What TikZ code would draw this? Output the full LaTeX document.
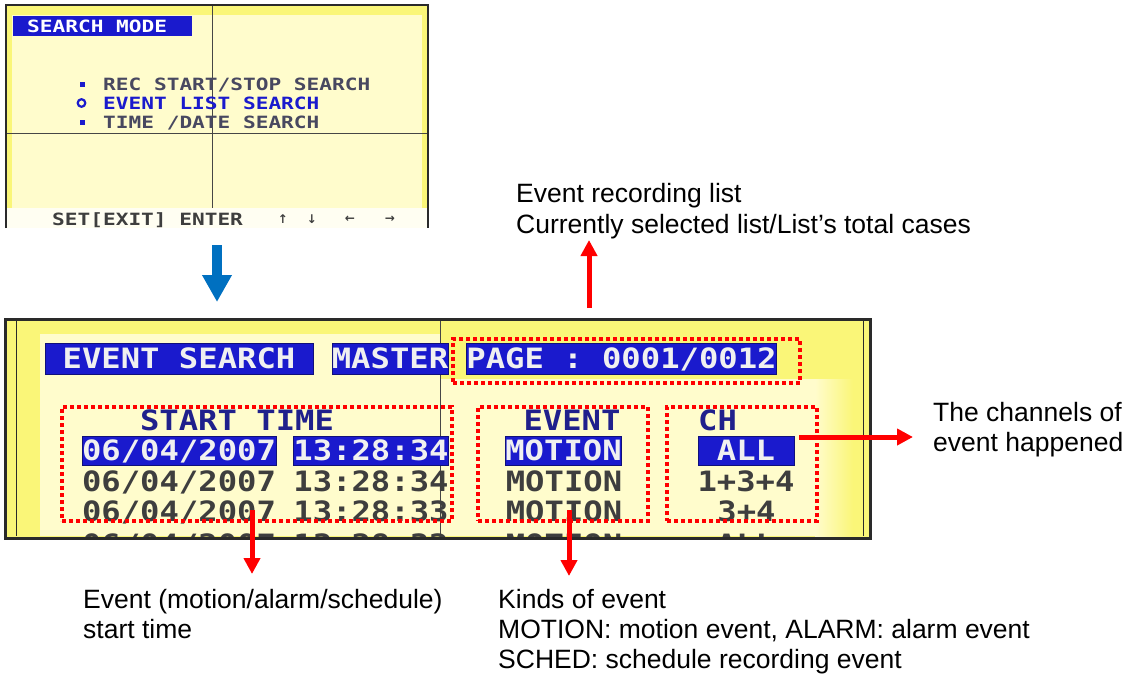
\documentclass[tikz,border=0pt]{standalone}
\usepackage{fontspec}
\setmainfont{Liberation Sans}
\newfontfamily\osdA{DejaVu Sans Mono}[FakeStretch=1.25]
\newfontfamily\osdB{DejaVu Sans Mono}[FakeStretch=1.15]
\newfontfamily\symfont{DejaVu Sans}
\usetikzlibrary{arrows.meta}
\definecolor{scrY}{RGB}{250,246,120}
\definecolor{scrL}{RGB}{255,252,204}
\definecolor{osdblue}{RGB}{26,26,205}
\definecolor{osdnavy}{RGB}{32,32,140}
\definecolor{osdgray}{RGB}{62,62,62}
\definecolor{menugray}{RGB}{72,72,96}
\definecolor{arrblue}{RGB}{0,112,192}
\definecolor{framec}{RGB}{42,42,42}
\tikzset{
  osdtop/.style={font=\osdA\bfseries\fontsize{16.9}{16.9}\selectfont, inner sep=0pt, text height=12.3pt, text depth=0pt},
  osdbot/.style={font=\osdB\bfseries\fontsize{28}{28}\selectfont, inner sep=0pt, text height=20.4pt, text depth=0pt},
  bluebox/.style={fill=osdblue, draw=osdblue!60!black, line width=0.6pt, text=white!94!black},
  reddot/.style={draw=red, line width=3.5pt, dash pattern=on 4pt off 3pt, inner sep=0pt},
  redarrow/.style={draw=red, line width=5pt, -{Triangle[width=16pt,length=16pt]}},
  annot/.style={font=\fontsize{26.5}{30}\selectfont, inner sep=0pt, anchor=base west, text=black},
  smallarr/.style={font=\symfont\bfseries\fontsize{12}{12}\selectfont, inner sep=0pt, text=osdgray}
}
\begin{document}
\begin{tikzpicture}[x=1pt,y=-1pt]
\useasboundingbox (0,0) rectangle (1131,677);
\fill[white] (0,0) rectangle (1131,677);
% ---------- top screen ----------
\fill[scrY] (6,5) rectangle (428,208);
\fill[scrL] (12,15) rectangle (422,208);
\fill[white!95!yellow] (6,208) rectangle (428,228);
\draw[gray!55!black, line width=0.8pt] (212,5) -- (212,208);
\draw[gray!55!black, line width=0.8pt] (6,133) -- (428,133);
\draw[framec, line width=2.2pt] (6,228) -- (6,5) -- (428,5) -- (428,228);
\fill[osdblue] (13,16) rectangle (192,36);
\node[osdtop, text=white, anchor=west] (title) at (27,26) {SEARCH MODE};
\fill[osdblue] (79.5,81.5) rectangle (84.5,86.5);
\draw[osdblue, line width=2.2pt] (81.5,103) circle (3.8);
\fill[osdblue] (79.5,120) rectangle (84.5,125);
\node[osdtop, text=menugray, anchor=west] (m1) at (103,84) {REC START/STOP SEARCH};
\node[osdtop, text=osdblue, anchor=west] (m2) at (103,103) {EVENT LIST SEARCH};
\node[osdtop, text=menugray, anchor=west] (m3) at (103,122.5) {TIME /DATE SEARCH};
\node[osdtop, text=osdgray, anchor=west] (keys) at (52,219) {SET[EXIT] ENTER};
\node[smallarr] (ku) at (283,219) {↑};
\node[smallarr] (kd) at (312,219) {↓};
\node[smallarr] (kl) at (350,219) {←};
\node[smallarr] (kr) at (390,219) {→};
% blue arrow
\coordinate (bA) at (217,245);
\coordinate (bB) at (217,302);
\draw[arrblue, line width=9.5pt, -{Triangle[width=28pt,length=27pt]}] (bA) -- (bB);
% ---------- bottom screen ----------
\fill[scrY] (5,319) rectangle (870,538);
\fill[scrL] (40,334) rectangle (440,536);
\fill[scrL] (440,379) rectangle (815,536);
\shade[left color=scrL, right color=scrY] (815,379) rectangle (853,536);
\draw[framec, line width=1pt] (16,321) -- (16,536);
\draw[framec, line width=1pt] (863,321) -- (863,536);
\draw[gray!55!black, line width=0.8pt] (440,320) -- (440,536);
\node[bluebox, osdbot, minimum width=268pt, minimum height=31pt] (es) at (179,358.5) {EVENT SEARCH};
\node[bluebox, osdbot, minimum width=114pt, minimum height=31pt] (ms) at (390,358.5) {MASTER};
\node[bluebox, osdbot, minimum width=307pt, minimum height=31pt] (pg) at (621.5,358.5) {PAGE : 0001/0012};
\node[osdbot, text=osdnavy] (hST) at (237,420) {START TIME};
\node[osdbot, text=osdnavy] (hEV) at (572,420) {EVENT};
\node[osdbot, text=osdnavy] (hCH) at (717.5,420) {CH};
\node[bluebox, osdbot, minimum width=192pt, minimum height=29pt] (d1) at (179,450.5) {06/04/2007};
\node[bluebox, osdbot, minimum width=152pt, minimum height=29pt] (c1) at (371,450.5) {13:28:34};
\node[bluebox, osdbot, minimum width=115pt, minimum height=29pt] (e1) at (563.5,450.5) {MOTION};
\node[bluebox, osdbot, minimum width=96pt, minimum height=29pt] (h1) at (746,450.5) {ALL};
\node[osdbot, text=osdgray] (d2) at (179,481) {06/04/2007};
\node[osdbot, text=osdgray] (c2) at (371,481) {13:28:34};
\node[osdbot, text=osdgray] (e2) at (564,481) {MOTION};
\node[osdbot, text=osdgray] (h2) at (746,481) {1+3+4};
\node[osdbot, text=osdgray] (d3) at (179,511) {06/04/2007};
\node[osdbot, text=osdgray] (c3) at (371,511) {13:28:33};
\node[osdbot, text=osdgray] (e3) at (564,511) {MOTION};
\node[osdbot, text=osdgray] (h3) at (746.5,511) {3+4};
\begin{scope}
\clip (5,319) rectangle (870,536);
\node[osdbot, text=osdgray] (d4) at (179,544) {06/04/2007};
\node[osdbot, text=osdgray] (c4) at (371,544) {13:28:32};
\node[osdbot, text=osdgray] (e4) at (564,544) {MOTION};
\node[osdbot, text=osdgray] (h4) at (746,544) {ALL};
\end{scope}
\draw[framec, line width=3pt] (5,319) rectangle (870,538);
% red dotted boxes
\node[reddot, minimum width=347pt, minimum height=44pt] (rPage) at (626.5,361) {};
\node[reddot, minimum width=390pt, minimum height=114pt] (rTime) at (257,464) {};
\node[reddot, minimum width=170pt, minimum height=114pt] (rEvent) at (563,464) {};
\node[reddot, minimum width=150pt, minimum height=114pt] (rCh) at (742,464) {};
% annotation texts
\node[annot] (t1a) at (516,202) {Event recording list};
\node[annot] (t1b) at (516,233) {Currently selected list/List’s total cases};
\node[annot] (t2a) at (933,421.5) {The channels of};
\node[annot] (t2b) at (933,451) {event happened};
\node[annot] (t3a) at (83,608.5) {Event (motion/alarm/schedule)};
\node[annot] (t3b) at (83,638.5) {start time};
\node[annot] (t4a) at (498,608.5) {Kinds of event};
\node[annot] (t4b) at (498,638.5) {MOTION: motion event, ALARM: alarm event};
\node[annot] (t4c) at (498,668.5) {SCHED: schedule recording event};
% red arrows
\coordinate (uA) at (589,308);
\coordinate (uB) at (589,240);
\coordinate (rA) at (799,437);
\coordinate (rB) at (913,437);
\coordinate (dA) at (252,510);
\coordinate (dB) at (252,574);
\coordinate (eA) at (569,510);
\coordinate (eB) at (569,576);
\draw[redarrow] (uA) -- (uB);
\draw[redarrow] (rA) -- (rB);
\draw[redarrow] (dA) -- (dB);
\draw[redarrow] (eA) -- (eB);
\end{tikzpicture}
\end{document}
